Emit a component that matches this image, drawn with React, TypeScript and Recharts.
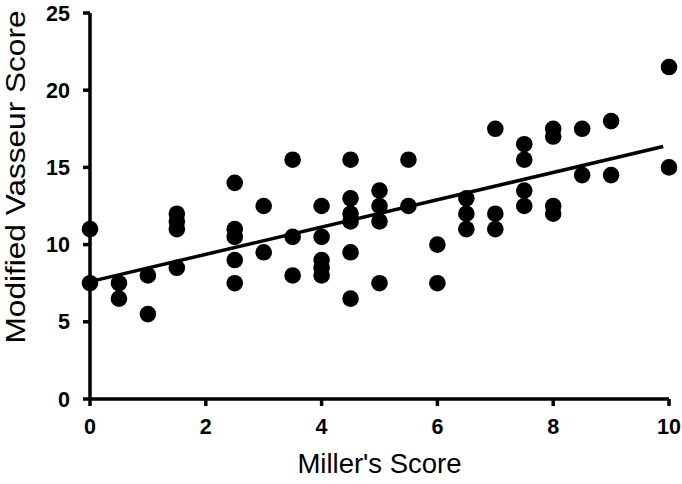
import { ScatterChart, Scatter, XAxis, YAxis, ReferenceLine, Label } from "recharts"

// Miller's score (x) vs modified Vasseur score (y), one entry per patient
const millerScores = [
  0, 0,
  0.5, 0.5,
  1, 1,
  1.5, 1.5, 1.5, 1.5,
  2.5, 2.5, 2.5, 2.5, 2.5,
  3, 3,
  3.5, 3.5, 3.5,
  4, 4, 4, 4, 4,
  4.5, 4.5, 4.5, 4.5, 4.5, 4.5,
  5, 5, 5, 5,
  5.5, 5.5,
  6, 6,
  6.5, 6.5, 6.5,
  7, 7, 7,
  7.5, 7.5, 7.5, 7.5,
  8, 8, 8, 8,
  8.5, 8.5,
  9, 9,
  10, 10,
]

const vasseurScores = [
  11, 7.5,
  7.5, 6.5,
  8, 5.5,
  12, 11.5, 11, 8.5,
  14, 11, 10.5, 9, 7.5,
  12.5, 9.5,
  15.5, 10.5, 8,
  12.5, 10.5, 9, 8.5, 8,
  15.5, 13, 12, 11.5, 9.5, 6.5,
  13.5, 12.5, 11.5, 7.5,
  15.5, 12.5,
  10, 7.5,
  13, 12, 11,
  17.5, 12, 11,
  16.5, 15.5, 13.5, 12.5,
  17.5, 17, 12.5, 12,
  17.5, 14.5,
  18, 14.5,
  21.5, 15,
]

// fitted line endpoints
const fitX = [0, 9.9]
const fitY = [7.6, 16.35]

const xTicks = [0, 2, 4, 6, 8, 10]
const yTicks = [0, 5, 10, 15, 20, 25]

const points = millerScores.map((x, i) => ({ x, y: vasseurScores[i] }))
const fitSegment = fitX.map((x, i) => ({ x, y: fitY[i] }))

const FONT = "'Liberation Sans', Arial, sans-serif"
const tickStyle = { fontSize: 21.5, fontWeight: 700, fill: "#000", fontFamily: FONT }
const axisLine = { stroke: "#000", strokeWidth: 3.5 }

const Dot = (props: any) => <circle cx={props.cx} cy={props.cy} r={8.3} fill="#000" />

export default function App() {
  return (
    <div style={{ position: "absolute", left: 0, top: 0, background: "#fff" }}>
      <ScatterChart width={682} height={484} margin={{ top: 13, right: 13, bottom: 0, left: 0 }}>
        <XAxis
          type="number"
          dataKey="x"
          domain={[0, 10]}
          ticks={xTicks}
          height={85}
          tick={tickStyle}
          tickSize={7}
          tickMargin={13}
          axisLine={axisLine}
          tickLine={axisLine}
        >
          <Label
            value="Miller's Score"
            position="insideBottom"
            offset={11}
            style={{ fontSize: 27.5, fill: "#000", fontFamily: FONT }}
          />
        </XAxis>
        <YAxis
          type="number"
          dataKey="y"
          domain={[0, 25]}
          ticks={yTicks}
          width={90}
          tick={tickStyle}
          tickSize={7}
          tickMargin={13}
          axisLine={axisLine}
          tickLine={axisLine}
        >
          <Label
            content={() => (
              <text
                x={25}
                y={177}
                transform="rotate(-90 25 177)"
                textAnchor="middle"
                textLength={333}
                lengthAdjust="spacingAndGlyphs"
                style={{ fontSize: 27.5, fill: "#000", fontFamily: FONT }}
              >
                Modified Vasseur Score
              </text>
            )}
          />
        </YAxis>
        <Scatter data={points} fill="#000" shape={Dot} isAnimationActive={false} />
        <ReferenceLine segment={fitSegment} stroke="#000" strokeWidth={3.5} />
      </ScatterChart>
    </div>
  )
}
